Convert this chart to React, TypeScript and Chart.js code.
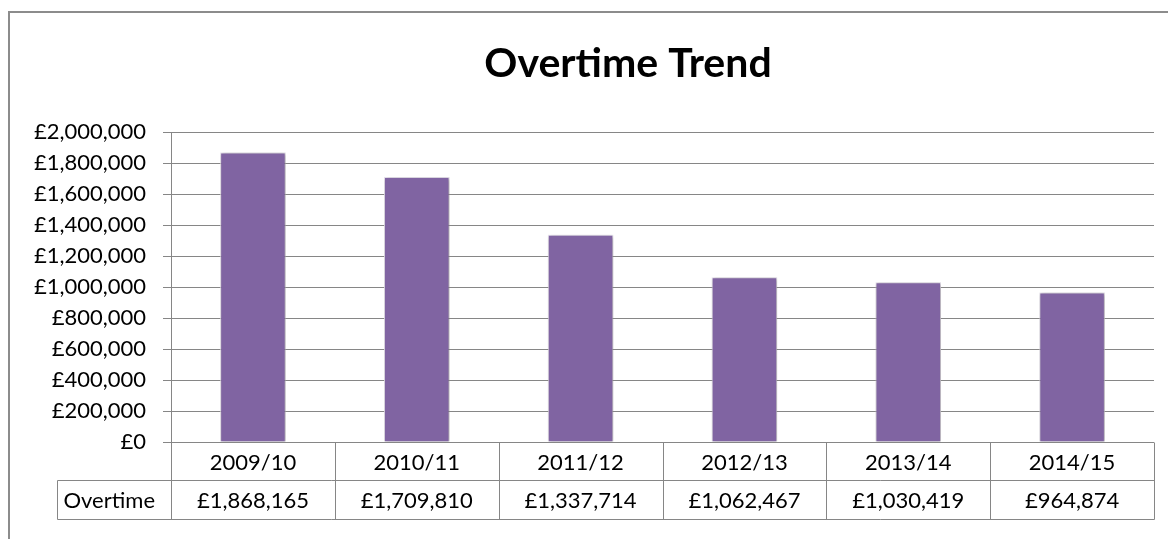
import React, { useEffect, useRef } from "react";
import { Chart, registerables } from "chart.js";

Chart.register(...registerables);

const title = "Overtime Trend";
const seriesLabel = "Overtime";
const categories = ["2009/10", "2010/11", "2011/12", "2012/13", "2013/14", "2014/15"];
const overtime = [1868165, 1709810, 1337714, 1062467, 1030419, 964874];
const yMin = 0;
const yMax = 2000000;
const yStep = 200000;

const FONT = "Lato, 'Open Sans', sans-serif";
const GRID = "#868686";

const fmt = (v: number) => "£" + Math.round(v).toLocaleString("en-GB");

const framePlugin = {
  id: "frame",
  beforeDraw(chart: any) {
    const ctx = chart.ctx;
    ctx.save();
    ctx.fillStyle = "#ffffff";
    ctx.fillRect(0, 0, chart.width, chart.height);
    ctx.strokeStyle = "#8c8c8c";
    ctx.lineWidth = 2;
    ctx.beginPath();
    ctx.moveTo(9, chart.height + 5);
    ctx.lineTo(9, 12);
    ctx.lineTo(chart.width + 5, 12);
    ctx.stroke();
    ctx.restore();
  },
  afterDraw(chart: any) {
    const ctx = chart.ctx;
    ctx.save();
    ctx.fillStyle = "#000000";
    ctx.font = `bold 41px ${FONT}`;
    ctx.textAlign = "center";
    ctx.textBaseline = "alphabetic";
    ctx.fillText(title, 628, 77);
    ctx.restore();
  },
};

const shadowPlugin = {
  id: "barShadow",
  beforeDatasetDraw(chart: any) {
    const ctx = chart.ctx;
    ctx.save();
    ctx.shadowColor = "rgba(0,0,0,0.35)";
    ctx.shadowBlur = 4;
    ctx.shadowOffsetX = 1;
    ctx.shadowOffsetY = 1;
  },
  afterDatasetDraw(chart: any) {
    chart.ctx.restore();
  },
};

const tablePlugin = {
  id: "dataTable",
  afterDraw(chart: any) {
    const ctx = chart.ctx;
    const area = chart.chartArea;
    const x = chart.scales.x;
    const n = categories.length;
    const w = (area.right - area.left) / n;
    const top = Math.round(area.bottom) + 0.5;
    const mid = top + 38;
    const bottom = top + 77;
    const left = 57.5;
    ctx.save();
    ctx.strokeStyle = GRID;
    ctx.lineWidth = 1;
    ctx.beginPath();
    for (let i = 0; i <= n; i++) {
      const px = Math.round(area.left + i * w) + 0.5;
      ctx.moveTo(px, top);
      ctx.lineTo(px, bottom);
    }
    ctx.moveTo(left, mid);
    ctx.lineTo(Math.round(area.right) + 0.5, mid);
    ctx.moveTo(left, bottom);
    ctx.lineTo(Math.round(area.right) + 0.5, bottom);
    ctx.moveTo(left, mid);
    ctx.lineTo(left, bottom);
    ctx.stroke();

    ctx.fillStyle = "#000000";
    ctx.font = `22px ${FONT}`;
    ctx.textBaseline = "middle";
    ctx.textAlign = "center";
    categories.forEach((c, i) => {
      const cx = x.getPixelForValue(i);
      ctx.fillText(c, cx, (top + mid) / 2 + 1);
      ctx.fillText(fmt(overtime[i]), cx, (mid + bottom) / 2 + 1);
    });
    ctx.textAlign = "left";
    ctx.fillText(seriesLabel, left + 6, (mid + bottom) / 2 + 1);
    ctx.restore();
  },
};

export default function App() {
  const ref = useRef<HTMLCanvasElement | null>(null);
  useEffect(() => {
    if (!ref.current) return;
    const chart = new Chart(ref.current, {
      type: "bar",
      data: {
        labels: categories,
        datasets: [
          {
            label: seriesLabel,
            data: overtime,
            backgroundColor: "#8064A2",
            borderColor: "rgba(235,230,242,0.9)",
            borderWidth: 1,
            barPercentage: 0.4,
            categoryPercentage: 1,
          },
        ],
      },
      options: {
        animation: false,
        responsive: false,
        devicePixelRatio: 1,
        layout: { padding: { left: 0, right: 14, top: 132, bottom: 97 } },
        plugins: {
          legend: { display: false },
          title: { display: false },
          tooltip: { enabled: false },
        },
        scales: {
          x: { display: false, offset: true },
          y: {
            min: yMin,
            max: yMax,
            afterFit(scale: any) {
              scale.width = 171;
            },
            ticks: {
              stepSize: yStep,
              padding: 17,
              color: "#000000",
              font: { family: FONT, size: 22 },
              callback: (v: any) => fmt(Number(v)),
            },
            grid: { color: GRID, lineWidth: 1, tickLength: 8, tickColor: GRID },
            border: { display: true, color: GRID, width: 1 },
          },
        },
      },
      plugins: [framePlugin, shadowPlugin, tablePlugin],
    });
    return () => chart.destroy();
  }, []);
  return (
    <div style={{ position: "fixed", left: 0, top: 0, width: 1168, height: 539, background: "#fff" }}>
      <canvas ref={ref} width={1168} height={539} style={{ display: "block" }} />
    </div>
  );
}
